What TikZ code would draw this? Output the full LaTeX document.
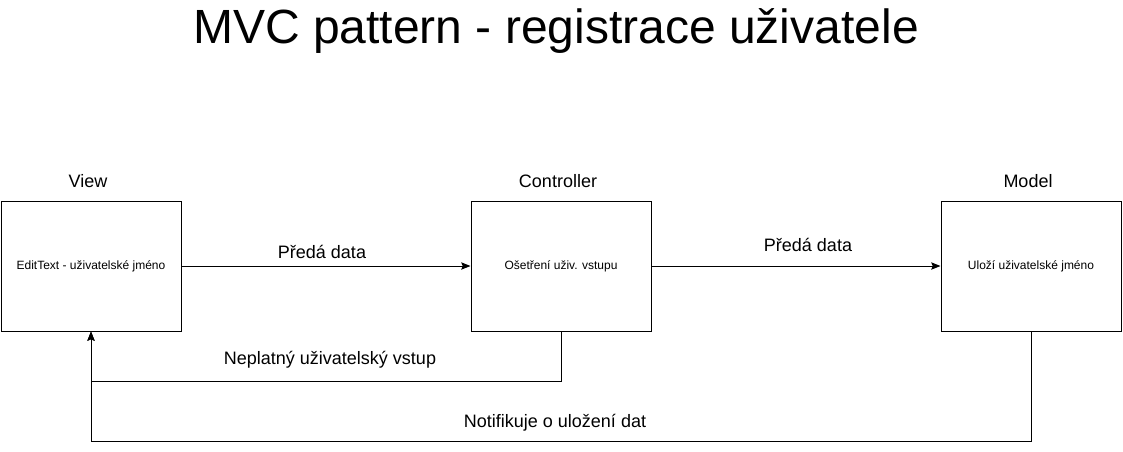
\documentclass[tikz,border=0pt]{standalone}
\usepackage{fontspec}
\setmainfont{Liberation Sans}
\usetikzlibrary{arrows.meta}
\begin{document}
\begin{tikzpicture}[x=0.75pt,y=-0.75pt,
  box/.style={draw,line width=0.75pt,minimum width=135pt,minimum height=97.5pt,inner sep=0pt,font=\fontsize{9pt}{11pt}\selectfont},
  hdr/.style={font=\fontsize{13.5pt}{16pt}\selectfont},
  lbl/.style={font=\fontsize{13.5pt}{16pt}\selectfont},
  conn/.style={line width=0.75pt,-{Stealth[length=7pt,width=5.5pt,inset=1.2pt]}}]
\useasboundingbox (0,0) rectangle (1123,451);
\node[font=\fontsize{36pt}{42pt}\selectfont] (title) at (556,31) {MVC pattern - registrace uživatele};
\node[box] (view) at (91,266) {EditText - uživatelské jméno};
\node[box] (ctrl) at (561,266) {Ošetření uživ. vstupu};
\node[box] (model) at (1031,266) {Uloží uživatelské jméno};
\node[hdr] (hv) at (88,181) {View};
\node[hdr] (hc) at (558,181) {Controller};
\node[hdr] (hm) at (1028,181) {Model};
\coordinate (c1) at (561,381);
\coordinate (c2) at (91,381);
\coordinate (m1) at (1031,441);
\coordinate (m2) at (91,441);
\draw[conn] (view.east) -- (ctrl.west);
\draw[conn] (ctrl.east) -- (model.west);
\draw[conn] (ctrl.south) -- (c1) -- (c2) -- (view.south);
\draw[conn] (model.south) -- (m1) -- (m2) -- (view.south);
\node[lbl] (l1) at (322,252) {Předá data};
\node[lbl] (l2) at (808,245) {Předá data};
\node[lbl] (l3) at (330,360) {Neplatný uživatelský vstup};
\node[lbl] (l4) at (555,423) {Notifikuje o uložení dat};
\end{tikzpicture}
\end{document}
